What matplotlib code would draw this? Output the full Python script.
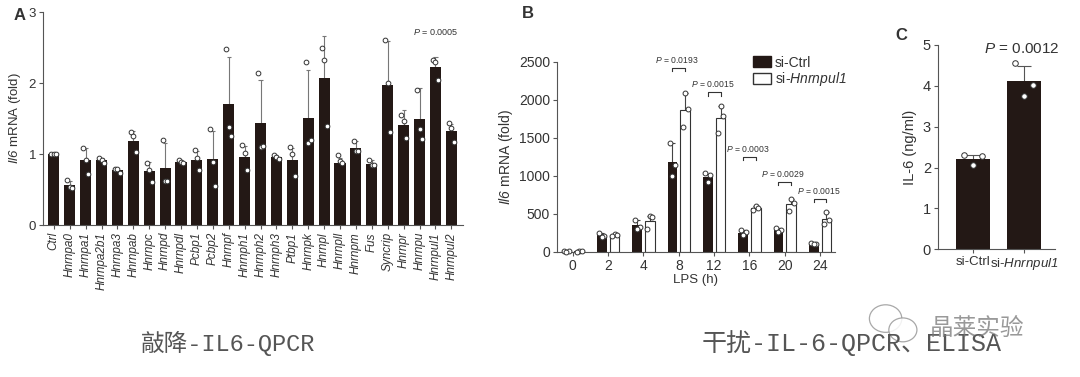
import numpy as np
import matplotlib.pyplot as plt
from matplotlib.patches import Patch, Ellipse

plt.rcParams['font.family'] = ['Liberation Sans', 'DejaVu Sans']
plt.rcParams['mathtext.fontset'] = 'custom'
plt.rcParams['mathtext.rm'] = 'Liberation Sans'
plt.rcParams['mathtext.it'] = 'Liberation Sans:italic'
plt.rcParams['mathtext.sf'] = 'Liberation Sans:italic'  # italico que incluye digitos
plt.rcParams['text.color'] = '#333333'
plt.rcParams['axes.labelcolor'] = '#333333'
plt.rcParams['xtick.color'] = '#555555'
plt.rcParams['ytick.color'] = '#555555'
plt.rcParams['xtick.labelcolor'] = '#333333'
plt.rcParams['ytick.labelcolor'] = '#333333'

#%% Panel A - knockdown screen
genes = ['Ctrl', 'Hnrnpa0', 'Hnrnpa1', 'Hnrnpa2b1', 'Hnrnpa3', 'Hnrnpab', 'Hnrnpc',
         'Hnrnpd', 'Hnrnpdl', 'Pcbp1', 'Pcbp2', 'Hnrnpf', 'Hnrnph1', 'Hnrnph2',
         'Hnrnph3', 'Ptbp1', 'Hnrnpk', 'Hnrnpl', 'Hnrnpll', 'Hnrnpm', 'Fus',
         'Syncrip', 'Hnrnpr', 'Hnrnpu', 'Hnrnpul1', 'Hnrnpul2']
a_mean = [1.00, 0.56, 0.91, 0.91, 0.77, 1.19, 0.76, 0.81, 0.89, 0.92, 0.93, 1.71, 0.96,
          1.44, 0.96, 0.92, 1.51, 2.07, 0.88, 1.09, 0.86, 1.97, 1.41, 1.50, 2.22, 1.32]
a_err = [0.01, 0.06, 0.18, 0.04, 0.03, 0.14, 0.13, 0.35, 0.02, 0.12, 0.40, 0.66, 0.16,
         0.60, 0.03, 0.17, 0.67, 0.59, 0.07, 0.10, 0.05, 0.62, 0.21, 0.43, 0.15, 0.11]
a_pts = [[1.00, 1.00, 1.00], [0.63, 0.53, 0.52], [1.08, 0.92, 0.72], [0.95, 0.92, 0.87],
         [0.79, 0.79, 0.73], [1.31, 1.25, 1.03], [0.88, 0.78, 0.60], [1.20, 0.62, 0.62],
         [0.91, 0.89, 0.88], [1.06, 0.95, 0.77], [1.36, 0.89, 0.55], [2.48, 1.38, 1.26],
         [1.13, 1.01, 0.78], [2.14, 1.10, 1.11], [0.99, 0.96, 0.93], [1.10, 1.00, 0.69],
         [2.29, 1.15, 1.20], [2.49, 2.32, 1.40], [0.98, 0.90, 0.88], [1.19, 1.05, 1.05],
         [0.92, 0.84, 0.84], [2.60, 2.00, 1.31], [1.55, 1.47, 1.22], [1.90, 1.36, 1.21],
         [2.32, 2.30, 2.05], [1.44, 1.37, 1.17]]
a_pval = '0.0005'

#%% Panel B - LPS time course
lps = ['0', '2', '4', '8', '12', '16', '20', '24']
ctrl_mean = [8, 220, 350, 1190, 990, 255, 285, 110]
ctrl_err = [5, 30, 70, 240, 40, 35, 25, 10]
ctrl_pts = [[12, 8, 4], [250, 210, 200], [420, 330, 300], [1440, 1150, 1000],
            [1040, 1010, 920], [290, 260, 220], [310, 290, 260], [120, 110, 100]]
si_mean = [10, 225, 410, 1870, 1760, 575, 630, 440]
si_err = [5, 15, 60, 220, 165, 25, 70, 90]
si_pts = [[14, 10, 6], [235, 225, 215], [470, 465, 300], [2090, 1880, 1650],
          [1920, 1790, 1570], [600, 580, 550], [700, 650, 545], [530, 420, 370]]
b_pvals = ['0.0193', '0.0015', '0.0003', '0.0029', '0.0015']
b_brackets = [2420, 2100, 1250, 920, 700]

#%% Panel C - ELISA
c_groups = ['si-Ctrl', 'si-$\\mathsf{Hnrnpul1}$']
c_mean = [2.21, 4.12]
c_err = [0.10, 0.37]
c_pts = [[2.31, 2.29, 2.07], [4.55, 4.03, 3.76]]
c_pval = '0.0012'

BAR = '#231815'
SP = '#555555'

def estilo(ax, size):
    for s in ['top', 'right']:
        ax.spines[s].set_visible(False)
    for s in ['left', 'bottom']:
        ax.spines[s].set_color(SP)
        ax.spines[s].set_linewidth(0.8)
    ax.tick_params(direction='out', length=3, width=0.8, labelsize=size, pad=2)

def barra_err(ax, x, m, e, c, col):
    ax.vlines(x, m, np.add(m, e), color=col, lw=0.8, zorder=1)
    ax.hlines(np.add(m, e), np.subtract(x, c), np.add(x, c), color=col, lw=0.8, zorder=1)

def puntos(ax, x, pts, off, ms):
    for i, p in enumerate(pts):
        ax.plot(x[i] + np.array(off[:len(p)]), p, 'o', ms=ms, mfc='white', mec='#333333',
                mew=0.7, zorder=4, clip_on=False)

fig = plt.figure(figsize=(10.8, 3.77), dpi=100)

#%% A
axA = fig.add_axes([0.0398, 0.403, 0.389, 0.565])
xa = np.arange(len(genes))
axA.bar(xa, a_mean, width=0.7, color=BAR, zorder=2)
barra_err(axA, xa, a_mean, a_err, 0.13, '#777777')
puntos(axA, xa, a_pts, [-0.15, 0.0, 0.15], 3.4)
axA.set_xlim(-0.68, 25.74)
axA.set_ylim(0, 3)
axA.set_yticks([0, 1, 2, 3])
axA.set_xticks(xa)
axA.set_xticklabels(genes, rotation=90, style='italic', fontsize=8.5)
estilo(axA, 9.5)
axA.tick_params(axis='x', labelsize=8.5)
axA.set_ylabel('$\\mathsf{Il6}$ mRNA (fold)', fontsize=9.5, labelpad=4)
axA.text(24, 2.72, '$\\mathsf{P}$ = ' + a_pval, fontsize=6.5, ha='center', va='center')

#%% B
axB = fig.add_axes([0.5157, 0.3316, 0.2574, 0.504])
xb = np.arange(len(lps))
w = 0.27
axB.bar(xb - 0.18, ctrl_mean, width=w, color=BAR, zorder=2)
axB.bar(xb + 0.18, si_mean, width=w, color='white', edgecolor='#333333', lw=0.8, zorder=2)
barra_err(axB, xb - 0.18, ctrl_mean, ctrl_err, 0.07, '#444444')
barra_err(axB, xb + 0.18, si_mean, si_err, 0.07, '#444444')
puntos(axB, xb - 0.18, ctrl_pts, [-0.07, 0.07, 0.0], 3.5)
puntos(axB, xb + 0.18, si_pts, [0.0, 0.07, -0.07], 3.5)
for k, (p, yb) in enumerate(zip(b_pvals, b_brackets)):
    i = 3 + k
    axB.plot([i - 0.18, i - 0.18, i + 0.18, i + 0.18], [yb - 45, yb, yb, yb - 45],
             color='#333333', lw=0.8)
    axB.text(i - 0.05, yb + 40, '$\\mathsf{P}$ = ' + p, fontsize=6.2, ha='center', va='bottom')
axB.set_xlim(-0.45, 7.42)
axB.set_ylim(0, 2500)
axB.set_yticks(range(0, 2501, 500))
axB.set_xticks(xb)
axB.set_xticklabels(lps)
estilo(axB, 10)
axB.set_ylabel('$\\mathsf{Il6}$ mRNA (fold)', fontsize=10, labelpad=3)
axB.set_xlabel('LPS (h)', fontsize=9.5, labelpad=1)
hs = [Patch(facecolor=BAR, edgecolor=BAR), Patch(facecolor='white', edgecolor='#333333')]
axB.legend(hs, ['si-Ctrl', 'si-$\\mathsf{Hnrnpul1}$'], loc='upper left',
           bbox_to_anchor=(0.68, 1.07), frameon=False, fontsize=10, handlelength=1.3,
           handleheight=0.8, labelspacing=0.05, borderpad=0, handletextpad=0.3)

#%% C
axC = fig.add_axes([0.8685, 0.3387, 0.1083, 0.542])
xc = np.arange(len(c_groups))
axC.bar(xc, c_mean, width=0.67, color=BAR, zorder=2)
barra_err(axC, xc, c_mean, c_err, 0.14, '#555555')
puntos(axC, xc, c_pts, [-0.17, 0.17, 0.0], 4)
axC.set_xlim(-0.686, 1.61)
axC.set_ylim(0, 5)
axC.set_xticks(xc)
axC.set_xticklabels(c_groups)
estilo(axC, 10.5)
axC.tick_params(axis='x', labelsize=9.5)
axC.set_ylabel('IL-6 (ng/ml)', fontsize=10.5, labelpad=4)
axC.text(0.96, 4.9, '$\\mathsf{P}$ = ' + c_pval, fontsize=11, ha='center', va='center')

#%% letras y textos
fig.text(0.013, 0.96, 'A', fontsize=12, weight='bold', va='center')
fig.text(0.483, 0.963, 'B', fontsize=12, weight='bold', va='center')
fig.text(0.8295, 0.905, 'C', fontsize=12, weight='bold', va='center')

cap = ['Liberation Mono', 'Noto Sans CJK SC']
fig.text(0.211, 0.09, '敲降-IL6-QPCR', family=cap, fontsize=17, color='#555555',
         ha='center', va='center')
fig.text(0.789, 0.09, '干扰-IL-6-QPCR、ELISA', family=cap, fontsize=18, color='#555555',
         ha='center', va='center')

# marca de agua
fig.text(0.905, 0.13, '晶莱实验', family=['Noto Sans CJK SC'], fontsize=17,
         color='#777777', alpha=0.75, ha='center', va='center')
for cx, cy, ew in [(0.82, 0.155, 0.030), (0.836, 0.125, 0.026)]:
    fig.patches.append(Ellipse((cx, cy), ew, ew * 1080 / 377 * 0.85, transform=fig.transFigure,
                               facecolor='white', edgecolor='#999999', lw=0.9, alpha=0.85))

fig.savefig('out.png', dpi=100)
